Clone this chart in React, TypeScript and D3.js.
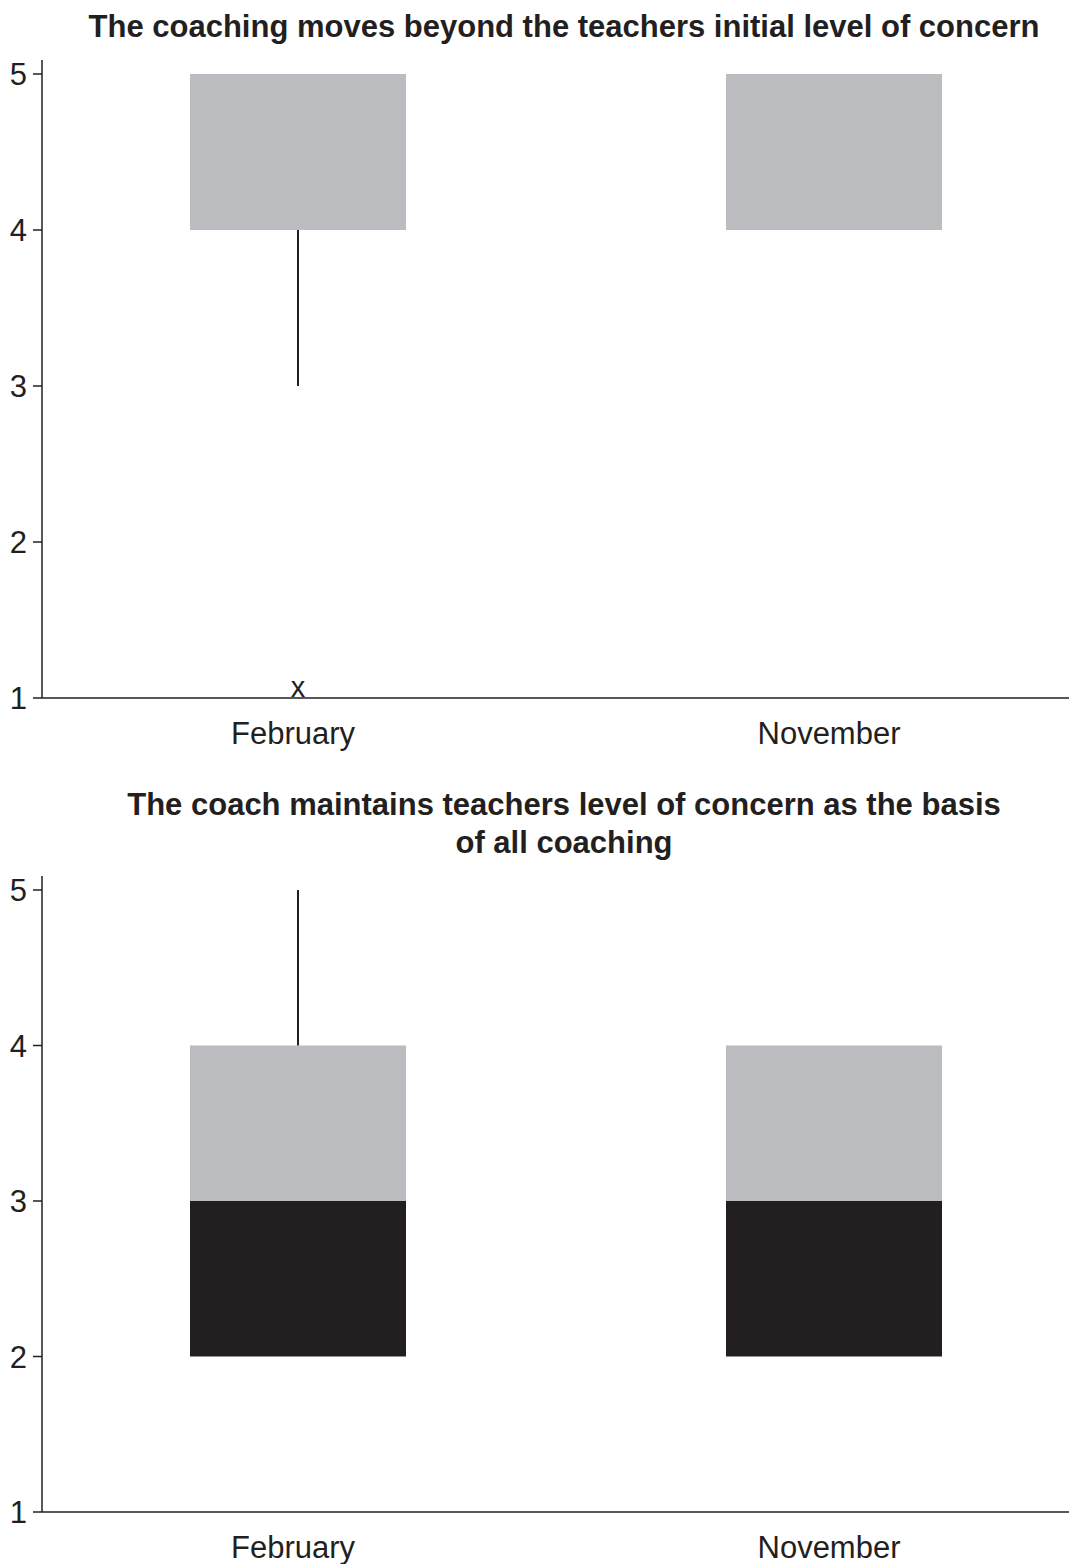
import React from "react";
import * as d3 from "d3";

// Survey months on the x axis
const categories = ["February", "November"];
const yTicks = [1, 2, 3, 4, 5];

// Panel 1: "moves beyond the initial level of concern"
const p1Title = ["The coaching moves beyond the teachers initial level of concern"];
const p1Min = [3, 4];
const p1Q1 = [4, 4];
const p1Median = [4, 4];
const p1Q3 = [5, 5];
const p1Max = [5, 5];
const p1Outliers = [[1], []];

// Panel 2: "maintains level of concern as the basis"
const p2Title = ["The coach maintains teachers level of concern as the basis", "of all coaching"];
const p2Min = [2, 2];
const p2Q1 = [2, 2];
const p2Median = [3, 3];
const p2Q3 = [4, 4];
const p2Max = [5, 4];
const p2Outliers = [[], []];

const W = 1069;
const H = 1564;
const FONT = "'Liberation Sans', Arial, Helvetica, sans-serif";
const INK = "#231f20";
const GREY = "#bbbcc0";
const TEXT_SIZE = 31;

type PanelProps = {
  title: string[];
  titleY: number;
  top: number;
  bottom: number;
  mins: number[];
  q1: number[];
  med: number[];
  q3: number[];
  maxs: number[];
  outliers: number[][];
};

function Panel({ title, titleY, top, bottom, mins, q1, med, q3, maxs, outliers }: PanelProps) {
  const axisX = 42;
  const y = d3.scaleLinear().domain([1, 5]).range([bottom, top]);
  const x = d3
    .scaleBand<string>()
    .domain(categories)
    .range([30, 1102])
    .paddingInner(0.597)
    .paddingOuter(0.2985);
  const bw = x.bandwidth();

  return (
    <g>
      {title.map((t, i) => (
        <text
          key={i}
          x={564}
          y={titleY + i * 38}
          textAnchor="middle"
          fontFamily={FONT}
          fontWeight="bold"
          fontSize={TEXT_SIZE}
          fill={INK}
        >
          {t}
        </text>
      ))}

      {categories.map((c, i) => {
        const x0 = x(c) as number;
        const cx = x0 + bw / 2;
        return (
          <g key={c}>
            {/* lower half of the box: Q1 to median */}
            <rect x={x0} y={y(med[i])} width={bw} height={y(q1[i]) - y(med[i])} fill={INK} />
            {/* upper half of the box: median to Q3 */}
            <rect x={x0} y={y(q3[i])} width={bw} height={y(med[i]) - y(q3[i])} fill={GREY} />
            {mins[i] < q1[i] && (
              <line x1={cx} x2={cx} y1={y(q1[i])} y2={y(mins[i])} stroke={INK} strokeWidth={2} />
            )}
            {maxs[i] > q3[i] && (
              <line x1={cx} x2={cx} y1={y(q3[i])} y2={y(maxs[i])} stroke={INK} strokeWidth={2} />
            )}
            {outliers[i].map((v, k) => (
              <text
                key={k}
                x={cx}
                y={y(v) - 1}
                textAnchor="middle"
                fontFamily={FONT}
                fontSize={29}
                fill={INK}
              >
                x
              </text>
            ))}
            <text
              x={cx - 5}
              y={bottom + 46}
              textAnchor="middle"
              fontFamily={FONT}
              fontSize={TEXT_SIZE}
              fill={INK}
            >
              {c}
            </text>
          </g>
        );
      })}

      {/* axes */}
      <line x1={axisX} x2={axisX} y1={top - 14} y2={bottom} stroke={INK} strokeWidth={1.5} />
      <line x1={axisX} x2={W} y1={bottom} y2={bottom} stroke={INK} strokeWidth={1.5} />
      {yTicks.map((t) => (
        <g key={t}>
          <line x1={axisX - 9} x2={axisX} y1={y(t)} y2={y(t)} stroke={INK} strokeWidth={1.5} />
          <text
            x={27}
            y={y(t) + 11}
            textAnchor="end"
            fontFamily={FONT}
            fontSize={TEXT_SIZE}
            fill={INK}
          >
            {t}
          </text>
        </g>
      ))}
    </g>
  );
}

export default function App() {
  return (
    <svg
      width={W}
      height={H}
      viewBox={`0 0 ${W} ${H}`}
      style={{ position: "absolute", left: 0, top: 0, background: "#fff" }}
    >
      <rect x={0} y={0} width={W} height={H} fill="#fff" />
      <Panel
        title={p1Title}
        titleY={37}
        top={74}
        bottom={698}
        mins={p1Min}
        q1={p1Q1}
        med={p1Median}
        q3={p1Q3}
        maxs={p1Max}
        outliers={p1Outliers}
      />
      <Panel
        title={p2Title}
        titleY={815}
        top={890}
        bottom={1512}
        mins={p2Min}
        q1={p2Q1}
        med={p2Median}
        q3={p2Q3}
        maxs={p2Max}
        outliers={p2Outliers}
      />
    </svg>
  );
}
